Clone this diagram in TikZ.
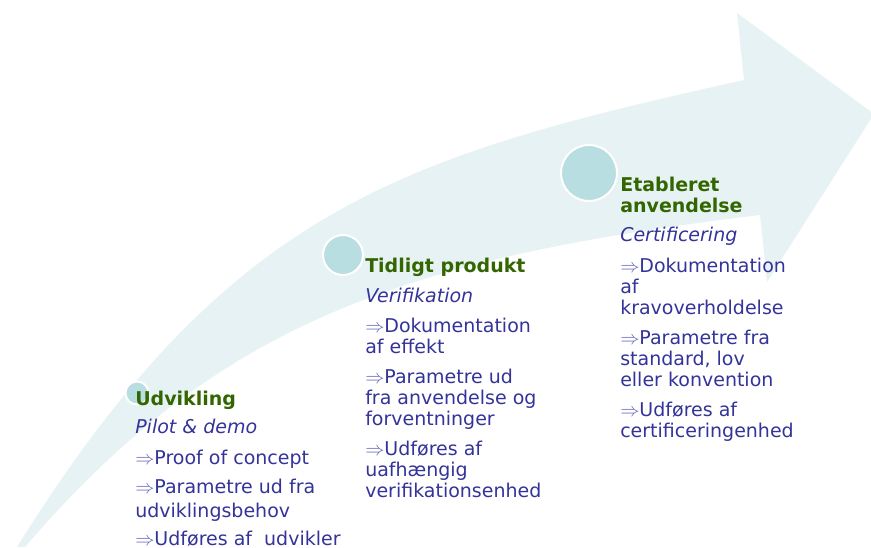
\documentclass[tikz,border=0pt]{standalone}
\usepackage{fontspec}
\setmainfont{DejaVu Sans}
\definecolor{band}{RGB}{230,242,243}
\definecolor{circ}{RGB}{185,222,225}
\definecolor{ttl}{RGB}{51,102,0}
\definecolor{txt}{RGB}{51,51,153}
\definecolor{arr}{RGB}{100,100,185}
\newcommand{\myra}{{\color{arr}$\Rightarrow$}}
\newcommand{\mytitle}[1]{{\color{ttl}\bfseries #1}}
\begin{document}
\begin{tikzpicture}[x=0.75pt,y=-0.75pt,
  stage/.style={circle,fill=circ,draw=white,line width=1.5pt,inner sep=0pt},
  block/.style={anchor=base west,inner sep=0pt,text=txt,
    font=\fontsize{14.25}{15.75}\selectfont}]
\useasboundingbox (0,0) rectangle (871,547);
\clip (0,0) rectangle (871,547);
% curved arrow band
\coordinate (o0) at (17,547);
\coordinate (o1) at (744,80);
\coordinate (b1) at (737,13);
\coordinate (tip) at (874,114);
\coordinate (b2) at (767,282);
\coordinate (i0) at (760,215);
\coordinate (i1) at (25,547);
\fill[band] (o0) .. controls (229,207) and (402,156) .. (o1)
  -- (b1) -- (tip) -- (b2) -- (i0)
  .. controls (412.5,257) and (220,319) .. (i1) -- cycle;
% stage markers
\node[stage,minimum size=17.25pt] (c1) at (137,393) {};
\node[stage,minimum size=30pt] (c2) at (343,255) {};
\node[stage,minimum size=42pt] (c3) at (589,173) {};
% text blocks
\node[block] (t1) at (135,405) {\begin{tabular}[t]{@{}l@{}}\mytitle{Udvikling}\\[5.25pt]
  {\itshape Pilot \& demo}\\[7.5pt]
  \myra Proof of concept\\[6pt]
  \myra Parametre ud fra\\[2.25pt]
  udviklingsbehov\\[5.25pt]
  \myra Udføres af\ \ udvikler\end{tabular}};
\node[block] (t2) at (365,272.7) {\begin{tabular}[t]{@{}l@{}}\mytitle{Tidligt produkt}\\[6.75pt]
  {\itshape Verifikation}\\[6.75pt]
  \myra Dokumentation\\
  af effekt\\[6.75pt]
  \myra Parametre ud\\
  fra anvendelse og\\
  forventninger\\[6.75pt]
  \myra Udføres af\\
  uafhængig\\
  verifikationsenhed\end{tabular}};
\node[block] (t3) at (620,191.7) {\begin{tabular}[t]{@{}l@{}}\mytitle{Etableret}\\
  \mytitle{anvendelse}\\[6pt]
  {\itshape Certificering}\\[7pt]
  \myra Dokumentation\\
  af\\
  kravoverholdelse\\[6.75pt]
  \myra Parametre fra\\
  standard, lov\\
  eller konvention\\[7pt]
  \myra Udføres af\\
  certificeringenhed\end{tabular}};
\end{tikzpicture}
\end{document}
